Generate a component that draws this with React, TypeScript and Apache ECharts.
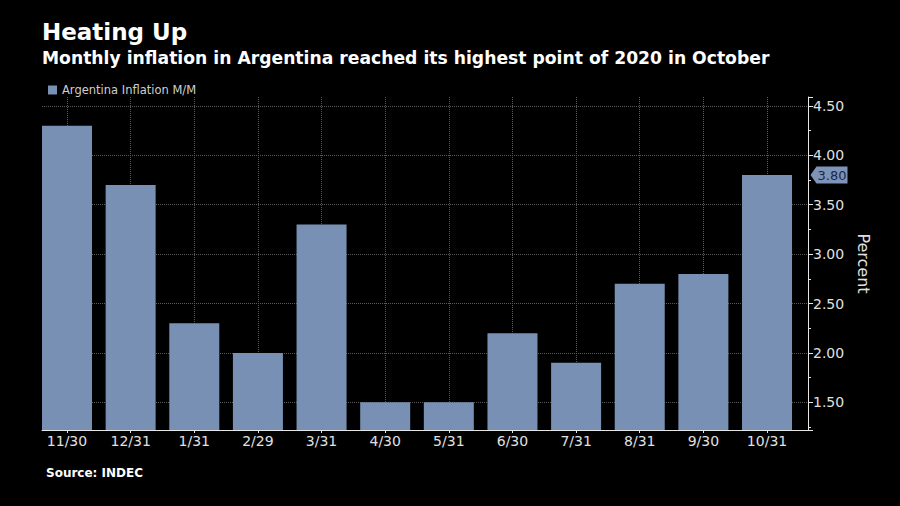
import React, { useEffect, useRef } from 'react';
import * as echarts from 'echarts';

const categories = ['11/30', '12/31', '1/31', '2/29', '3/31', '4/30', '5/31', '6/30', '7/31', '8/31', '9/30', '10/31'];
const inflation = [4.3, 3.7, 2.3, 2.0, 3.3, 1.5, 1.5, 2.2, 1.9, 2.7, 2.8, 3.8];
const yTickLabels = [1.5, 2.0, 2.5, 3.0, 3.5, 4.0, 4.5];
const seriesName = 'Argentina Inflation M/M';
const titleText = 'Heating Up';
const subtitleText = 'Monthly inflation in Argentina reached its highest point of 2020 in October';
const sourceText = 'Source: INDEC';
const yAxisName = 'Percent';

export default function App() {
  const ref = useRef<HTMLDivElement>(null);
  useEffect(() => {
    const chart = echarts.init(ref.current!, null, { renderer: 'svg' });
    const idx = categories.map((_, i) => i);
    const xMin = -0.393;
    const xMax = categories.length - 1 + 0.644;
    const lastValue = inflation[inflation.length - 1];
    const font = 'DejaVu Sans';
    chart.setOption({
      animation: false,
      backgroundColor: '#000000',
      title: [
        { text: titleText, left: 42, top: 20, padding: 0, textStyle: { color: '#ffffff', fontSize: 23, fontWeight: 'bold', fontFamily: font } },
        { text: subtitleText, left: 42, top: 49, padding: 0, textStyle: { color: '#ffffff', fontSize: 17.2, fontWeight: 'bold', fontFamily: font } },
        { text: sourceText, left: 46, top: 467, padding: 0, textStyle: { color: '#ffffff', fontSize: 12, fontWeight: 'bold', fontFamily: font } },
      ],
      legend: {
        data: [seriesName],
        left: 43,
        top: 79,
        icon: 'rect',
        itemWidth: 9,
        itemHeight: 9,
        textStyle: { color: '#cfcfcf', fontSize: 11.5, fontFamily: font },
      },
      grid: { left: 42, right: 92, top: 97, bottom: 76, containLabel: false },
      xAxis: {
        type: 'value',
        min: xMin,
        max: xMax,
        axisLine: { show: true, onZero: false, lineStyle: { color: '#e6e6e6', width: 1 } },
        axisTick: { show: true, customValues: idx, length: 3, lineStyle: { color: '#e6e6e6' } },
        axisLabel: {
          customValues: idx,
          formatter: (v: number) => categories[Math.round(v)] ?? '',
          color: '#e0e0e0',
          fontSize: 14,
          fontFamily: font,
          margin: 4,
        },
        splitLine: { show: false },
      },
      yAxis: {
        type: 'value',
        position: 'right',
        min: 1.22,
        max: 4.59,
        name: yAxisName,
        nameLocation: 'middle',
        nameRotate: -90,
        nameGap: 44,
        nameTextStyle: { color: '#e0e0e0', fontSize: 16, fontFamily: font },
        axisLine: { show: true, onZero: false, lineStyle: { color: '#e6e6e6', width: 1 } },
        axisTick: { show: true, inside: false, length: 5, lineStyle: { color: '#e6e6e6' } },
        minorTick: { show: true, splitNumber: 2, length: 3, lineStyle: { color: '#e6e6e6' } },
        axisLabel: {
          color: '#e0e0e0',
          fontSize: 14,
          fontFamily: font,
          margin: 5,
          formatter: (v: number) => (yTickLabels.some((t) => Math.abs(t - v) < 1e-6) ? v.toFixed(2) : ''),
        },
        splitLine: { show: true, showMinLine: false, showMaxLine: false, lineStyle: { color: '#5a5a5a', type: 'dotted', width: 1 } },
      },
      series: [
        {
          name: seriesName,
          type: 'bar',
          z: 3,
          barWidth: 50,
          data: inflation.map((v, i) => [i, v]),
          itemStyle: { color: '#7990b5' },
          markLine: {
            z: 0,
            silent: true,
            symbol: ['none', 'none'],
            label: { show: false },
            emphasis: { disabled: true },
            lineStyle: { color: '#5a5a5a', type: 'dotted', width: 1 },
            data: idx.map((i) => ({ xAxis: i })),
          },
          markPoint: {
            z: 6,
            symbol: 'path://M0,8.5L6,0L37,0L37,17L6,17Z',
            symbolSize: [37, 17],
            symbolKeepAspect: false,
            symbolOffset: [21, 0],
            itemStyle: { color: '#7d93b8' },
            label: {
              show: true,
              formatter: lastValue.toFixed(2),
              color: '#1b2846',
              fontSize: 13,
              fontFamily: font,
              offset: [3, 0],
            },
            data: [{ coord: [xMax, lastValue], value: lastValue }],
          },
        },
      ],
    });
    return () => chart.dispose();
  }, []);
  return <div ref={ref} style={{ position: 'absolute', left: 0, top: 0, width: 900, height: 506, background: '#000' }} />;
}
